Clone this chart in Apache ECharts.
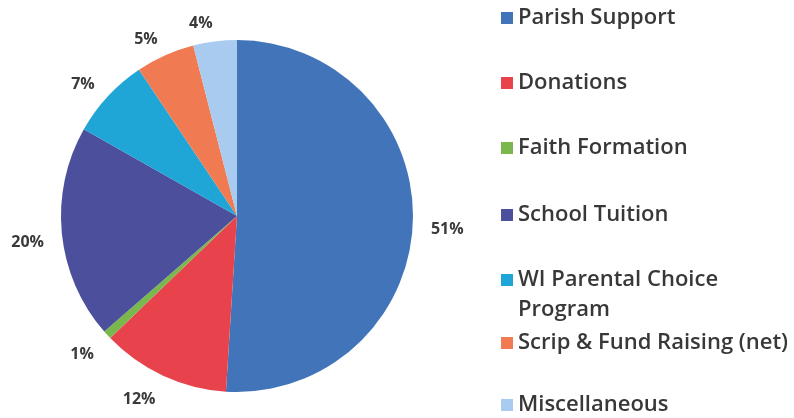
<!DOCTYPE html>
<html>
<head>
<meta charset="utf-8">
<script src="https://cdn.jsdelivr.net/npm/echarts@6/dist/echarts.min.js"></script>
<style>
  html, body { margin: 0; padding: 0; background: #fff; }
  #main { width: 794px; height: 418px; }
</style>
</head>
<body>
<div id="main"></div>
<script>
// 数据
var categories = ['Parish Support', 'Donations', 'Faith Formation', 'School Tuition',
    'WI Parental Choice Program', 'Scrip & Fund Raising (net)', 'Miscellaneous'];
var values = [51, 11.8, 0.8, 19.6, 7.4, 5.4, 4.0];
var colors = ['#4174b9', '#e8434d', '#7ab84e', '#4c4f9c', '#1fa6d6', '#f07a52', '#a8cbef'];

var chart = echarts.init(document.getElementById('main'));

var pieData = categories.map(function (name, i) {
    return { name: name, value: values[i], itemStyle: { color: colors[i] } };
});

var lineH = 30;

// 图例：每项单独一个，便于对齐
var legendCenters = [18, 83, 148, 215, 280, 343, 405];
var legends = categories.map(function (name, i) {
    var twoLine = name === 'WI Parental Choice Program';
    return {
        data: [name],
        orient: 'vertical',
        left: 501,
        top: legendCenters[i] - (twoLine ? 1.5 : 0.5) * lineH,
        padding: 0,
        itemWidth: 12,
        itemHeight: 12,
        itemGap: 0,
        icon: 'rect',
        selectedMode: false,
        formatter: function (n) {
            return n === 'WI Parental Choice Program' ? '\nWI Parental Choice\nProgram' : n;
        },
        textStyle: {
            fontFamily: '"Open Sans", sans-serif',
            fontSize: 22,
            fontWeight: 600,
            color: '#383838',
            lineHeight: lineH
        }
    };
});

var option = {
    backgroundColor: '#fff',
    animation: false,
    legend: legends,
    series: [
        {
            type: 'pie',
            center: [237, 216],
            radius: [0, 176],
            startAngle: 90,
            clockwise: true,
            avoidLabelOverlap: false,
            data: pieData,
            label: {
                show: true,
                position: 'outside',
                distanceToLabelLine: 0,
                formatter: function (p) { return Math.round(p.value) + '%'; },
                fontFamily: '"Open Sans", sans-serif',
                fontSize: 16,
                fontWeight: 'bold',
                color: '#3a3a3a'
            },
            labelLine: { show: false, length: 18, length2: 0 },
            // 下半部分的标签略微下移
            labelLayout: function (p) {
                if (p.labelRect.y + p.labelRect.height / 2 > 200) return { dy: 7 };
                return {};
            },
            emphasis: { disabled: true }
        }
    ]
};

chart.setOption(option);
</script>
</body>
</html>
